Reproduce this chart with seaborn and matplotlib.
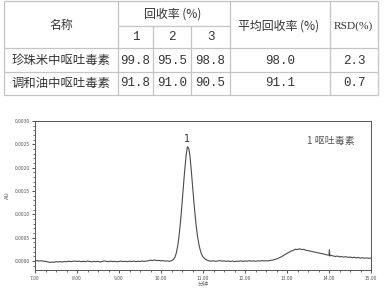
import numpy as np
import pandas as pd
import matplotlib
matplotlib.use("Agg")
import matplotlib.pyplot as plt
import seaborn as sns
from matplotlib.ticker import MultipleLocator, FormatStrFormatter

sns.set_theme(style="white")
plt.rcParams['font.family'] = ['Noto Sans CJK SC', 'DejaVu Sans']

# ---------------- table data ----------------
samples = ["珍珠米中呕吐毒素", "调和油中呕吐毒素"]
rec_1 = ["99.8", "91.8"]
rec_2 = ["95.5", "91.0"]
rec_3 = ["98.8", "90.5"]
rec_mean = ["98.0", "91.1"]
rsd = ["2.3", "0.7"]
header_name = "名称"
header_rec = "回收率 (%)"
header_runs = ["1", "2", "3"]
header_mean = "平均回收率 (%)"
header_rsd = "RSD(%)"

# ---------------- chromatogram data ----------------
time_min = [
    7.00, 7.05, 7.10, 7.15, 7.20, 7.25, 7.30, 7.35, 7.40, 7.45, 7.50, 7.55, 7.60, 7.65, 7.70, 7.75,
    7.80, 7.85, 7.90, 7.95, 8.00, 8.05, 8.10, 8.15, 8.20, 8.25, 8.30, 8.35, 8.40, 8.45, 8.50, 8.55,
    8.60, 8.65, 8.70, 8.75, 8.80, 8.85, 8.90, 8.95, 9.00, 9.05, 9.10, 9.15, 9.20, 9.25, 9.30, 9.35,
    9.40, 9.45, 9.50, 9.55, 9.60, 9.65, 9.70, 9.75, 9.80, 9.85, 9.90, 9.95, 10.00, 10.05, 10.10,
    10.15, 10.20, 10.25,
    10.30, 10.33, 10.36, 10.40, 10.44, 10.48, 10.52, 10.56, 10.60, 10.63, 10.66, 10.69, 10.72,
    10.75, 10.78, 10.81, 10.84, 10.87, 10.90, 10.93, 10.96, 11.00, 11.05, 11.10,
    11.15, 11.20, 11.25, 11.30, 11.35, 11.40, 11.45, 11.50, 11.55, 11.60, 11.65, 11.70, 11.75,
    11.80, 11.85, 11.90, 11.95, 12.00, 12.05, 12.10, 12.15, 12.20, 12.25, 12.30, 12.35, 12.40,
    12.45, 12.50, 12.55, 12.60, 12.65, 12.70, 12.75, 12.80, 12.85, 12.90, 12.95, 13.00, 13.05,
    13.10, 13.15, 13.20, 13.25, 13.30, 13.35, 13.40, 13.45, 13.50, 13.55, 13.60, 13.65, 13.70,
    13.75, 13.80, 13.85, 13.90, 13.95, 14.00, 14.01, 14.02, 14.05, 14.10, 14.15, 14.20, 14.25,
    14.30, 14.35, 14.40, 14.45, 14.50, 14.55, 14.60, 14.65, 14.70, 14.75, 14.80, 14.85, 14.90,
    14.95, 15.00,
]
signal_uAU = [
    5, 10, 2, 8, 0, -5, -15, -28, -20, -25, -12, -18, -10, -20, -8, -14,
    -2, -10, -5, 2, -8, 0, -12, -4, -10, 2, -8, -15, -5, -12, -3, -18,
    -8, 5, -6, -12, 0, -10, -4, -14, -6, 0, -10, -3, -12, -2, -8, 0,
    -10, -4, -8, 2, -6, 0, 8, 20, 12, 25, 10, 18, 5, 12, -2,
    4, -5, 8,
    40, 80, 160, 330, 620, 1000, 1450, 1900, 2280, 2450, 2420, 2250, 1950,
    1620, 1300, 1000, 740, 530, 370, 250, 160, 90, 45, 20,
    5, -2, 8, -5, 3, 12, 0, 6, -6, 4, -8, 2, -10,
    0, -4, 6, -6, 4, -2, 8, 0, 6, -4, 5, 2, 10,
    4, 8, 6, 15, 20, 32, 45, 65, 85, 110, 140, 165, 190,
    215, 230, 255, 248, 265, 245, 255, 232, 225, 215, 205, 195, 185,
    175, 165, 158, 145, 135, 125, 240, 110, 125, 110, 100, 108, 92,
    98, 85, 95, 80, 88, 75, 82, 70, 78, 65, 72, 62, 70,
    60, 66,
]
peak_label = "1"
peak_time = 10.63
legend_text = "1 呕吐毒素"
x_label = "分钟"
y_label = "AU"

W, H = 384, 293
fig = plt.figure(figsize=(W / 100, H / 100), dpi=100)

# ---------------- table (pixel coordinate overlay) ----------------
tab = fig.add_axes([0, 0, 1, 1])
tab.set_xlim(0, W)
tab.set_ylim(H, 0)
tab.axis("off")
lc = "#c4c4c4"
lw = 0.9
for (x0, x1, y) in [(4, 378, 0.6), (118, 230, 26), (4, 378, 48), (4, 378, 72), (4, 378, 94.5)]:
    tab.plot([x0, x1], [y, y], color=lc, lw=lw, solid_capstyle="butt")
for (x, y0, y1) in [(4, 0.6, 94.5), (118, 0.6, 94.5), (153, 26, 94.5), (191, 26, 94.5),
                    (230, 0.6, 94.5), (330, 0.6, 94.5), (378, 0.6, 94.5)]:
    tab.plot([x, x], [y0, y1], color=lc, lw=lw, solid_capstyle="butt")

tc = "#333333"
cjk = ['Noto Sans CJK SC', 'DejaVu Sans']
num = ['Liberation Mono', 'Noto Sans CJK SC']
tab.text(61, 25, header_name, ha="center", va="center", fontsize=8.6, color=tc, family=cjk)
tab.text(173, 14, header_rec, ha="center", va="center", fontsize=8.6, color=tc, family=cjk)
for xc, lab in zip([135.5, 172, 210.5], header_runs):
    tab.text(xc, 37, lab, ha="center", va="center", fontsize=9, color=tc, family=num)
tab.text(279, 26, header_mean, ha="center", va="center", fontsize=8.6, color=tc, family=cjk)
tab.text(353, 26, header_rsd, ha="center", va="center", fontsize=8.2, color=tc,
         family=['Liberation Serif', 'Noto Sans CJK SC'])
for i, yc in enumerate([60.5, 83]):
    tab.text(61, yc, samples[i], ha="center", va="center", fontsize=8.9, color=tc, family=cjk)
    for xc, col in zip([135.5, 172, 210.5, 280, 354], [rec_1, rec_2, rec_3, rec_mean, rsd]):
        tab.text(xc, yc, col[i], ha="center", va="center", fontsize=9, color=tc, family=num)

# ---------------- chromatogram ----------------
left, right, top, bottom = 35, 371, 121, 270
ax = fig.add_axes([left / W, 1 - bottom / H, (right - left) / W, (bottom - top) / H])
df = pd.DataFrame({"t": time_min, "au": np.array(signal_uAU) / 1e6})
sns.lineplot(data=df, x="t", y="au", ax=ax, color="#4a4a4a", lw=0.8, estimator=None, sort=False)
ax.set_xlim(7, 15)
ax.set_ylim(-0.00019, 0.0030)
ax.xaxis.set_major_locator(MultipleLocator(1))
ax.xaxis.set_minor_locator(MultipleLocator(0.25))
ax.yaxis.set_major_locator(MultipleLocator(0.0005))
ax.yaxis.set_minor_locator(MultipleLocator(0.0001))
ax.xaxis.set_major_formatter(FormatStrFormatter("%.2f"))
ax.yaxis.set_major_formatter(FormatStrFormatter("%.4f"))
ax.tick_params(which="major", direction="out", length=2.5, width=0.6, color="#333333",
               labelsize=3.6, labelcolor="#555555", pad=1.5, bottom=True, left=True)
ax.tick_params(which="minor", direction="out", length=1.3, width=0.5, color="#333333",
               bottom=True, left=True)
for s in ax.spines.values():
    s.set_color("#555555")
    s.set_linewidth(0.7)
ax.set_xlabel(x_label, fontsize=4, color="#666666", labelpad=1)
ax.set_ylabel(y_label, fontsize=4.2, color="#555555", labelpad=3)
ax.grid(False)
ax.text(peak_time, 0.00262, peak_label, ha="center", va="center", fontsize=7, color="#333333",
        family=['DejaVu Sans'])
ax.text(331, 141, legend_text, transform=tab.transData, ha="center", va="center",
        fontsize=7.2, color="#555555", family=cjk)

fig.savefig("out.png", dpi=100)
